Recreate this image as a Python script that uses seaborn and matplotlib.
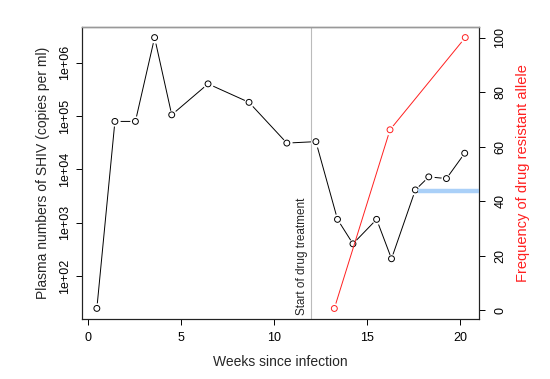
import numpy as np
import matplotlib
matplotlib.use("Agg")
import matplotlib.pyplot as plt
import matplotlib.ticker as mticker
import seaborn as sns

# viral load (copies per ml)
weeks = [0.48, 1.45, 2.55, 3.58, 4.5, 6.45, 8.65, 10.68, 12.24,
         13.4, 14.23, 15.5, 16.3, 17.58, 18.3, 19.25, 20.23]
shiv = [24.6, 7.9e4, 7.9e4, 2.95e6, 1.05e5, 4.0e5, 1.8e5, 3.1e4, 3.3e4,
        1150, 400, 1150, 210, 4100, 7200, 6700, 2.0e4]

# drug resistant allele frequency (%)
allele_weeks = [13.23, 16.22, 20.26]
allele_freq = [0.7, 66.2, 100]

treatment_start = 12.0
blue_start = 17.7
blue_level = 43.7

sns.set_style("white")
plt.rcParams["font.family"] = ["Liberation Sans", "DejaVu Sans"]

fig = plt.figure(figsize=(5.5, 3.79), dpi=100)
ax = fig.add_axes([0.149, 0.158, 0.722, 0.771])

sns.lineplot(x=weeks, y=shiv, ax=ax, color="black", lw=0.7, sort=False)
ax.scatter(weeks, shiv, s=55, color="white", zorder=3, linewidths=0)
ax.scatter(weeks, shiv, s=18, facecolors="none", edgecolors="black",
           linewidths=0.7, zorder=4)

ax.set_yscale("log")
ax.set_xlim(-0.32, 21.0)
ax.set_ylim(10 ** 1.19, 10 ** 6.67)
ax.set_xticks([0, 5, 10, 15, 20])
ax.set_yticks([1e2, 1e3, 1e4, 1e5, 1e6])
ax.yaxis.set_major_formatter(mticker.FuncFormatter(
    lambda v, p: "1e+%02d" % int(round(np.log10(v)))))
ax.yaxis.set_minor_locator(mticker.NullLocator())
ax.tick_params(axis="both", direction="out", length=4, width=0.7,
               labelsize=9, colors="black", left=True, bottom=True)
ax.tick_params(axis="x", pad=5)
for lab in ax.get_yticklabels():
    lab.set_rotation(90)
    lab.set_va("center")

ax.axvline(treatment_start, color="#bbbbbb", lw=0.8)
ax.text(11.5, 0.014, "Start of drug treatment", rotation=90,
        ha="center", va="bottom", fontsize=8.5,
        transform=ax.get_xaxis_transform())

ax.set_xlabel("Weeks since infection", fontsize=10, labelpad=8)
ax.set_ylabel("Plasma numbers of SHIV (copies per ml)", fontsize=10, labelpad=7)

ax2 = ax.twinx()
sns.lineplot(x=allele_weeks, y=allele_freq, ax=ax2, color="#ff2020",
             lw=0.7, sort=False)
ax2.scatter(allele_weeks, allele_freq, s=55, color="white", zorder=3,
            linewidths=0)
ax2.scatter(allele_weeks, allele_freq, s=18, facecolors="none",
            edgecolors="#ff2020", linewidths=0.7, zorder=4)
ax2.plot([blue_start, 21.0], [blue_level, blue_level], color="#aad0f8",
         lw=3.2, solid_capstyle="butt", zorder=2)
ax2.set_ylim(-3.2, 103.9)
ax2.set_yticks([0, 20, 40, 60, 80, 100])
ax2.tick_params(axis="y", direction="out", length=4, width=0.7,
                labelsize=9, colors="black", right=True, pad=7)
for lab in ax2.get_yticklabels():
    lab.set_rotation(90)
    lab.set_va("center")
ax2.set_ylabel("Frequency of drug resistant allele", fontsize=10.5,
               color="#ff2020", labelpad=7)

for a in (ax, ax2):
    for side in ("left", "bottom", "right"):
        a.spines[side].set_color("#222222")
        a.spines[side].set_linewidth(0.8)
    a.spines["top"].set_color("#999999")
    a.spines["top"].set_linewidth(1.0)

fig.savefig("out.png", dpi=100)
